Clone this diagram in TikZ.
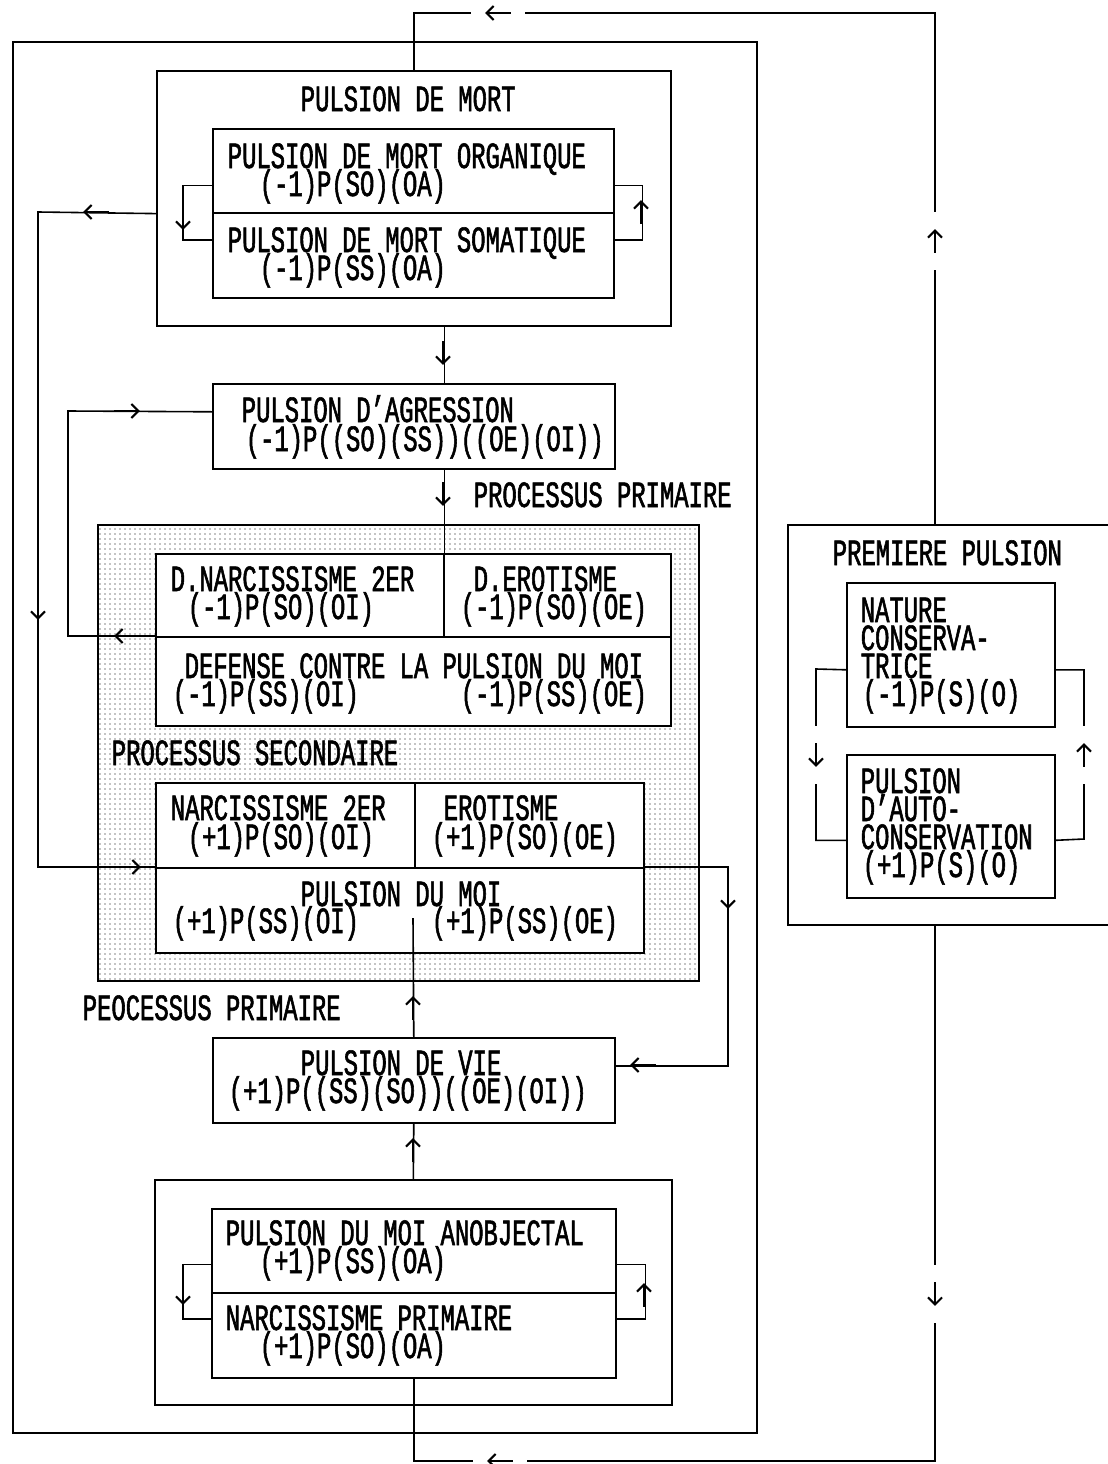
\documentclass[tikz,border=0pt]{standalone}
\usepackage{fontspec}
\setmainfont{Liberation Mono}[FakeStretch=0.645,FakeBold=1.5]
\usetikzlibrary{patterns.meta,arrows.meta}

\begin{document}
\begin{tikzpicture}[x=1pt,y=-1pt,line width=1.6pt,
  cell/.style={draw,rectangle,anchor=north west,inner sep=0pt},
  wcell/.style={cell,fill=white},
  wh/.style 2 args={minimum width=#1pt,minimum height=#2pt},
  lbl/.style={anchor=base west,inner sep=0pt,font=\fontsize{37}{28}\selectfont},
  ha/.style={inner sep=0pt,minimum width=24pt,minimum height=1pt},
  va/.style={inner sep=0pt,minimum width=1pt,minimum height=22pt},
  hg/.style={ha,fill=white,minimum width=54pt,minimum height=6pt},
  vg/.style={va,fill=white,minimum width=6pt,minimum height=58pt},
  tip/.style={-{Straight Barb[length=7pt,width=14pt,line width=2pt]}}]
\useasboundingbox (0,0) rectangle (1108,1464);
% boxes
\node[wcell,wh={744}{1391}] (outer) at (12,41) {};
\node[wcell,wh={514}{255}] (pdm) at (156,70) {};
\node[wcell,wh={401}{84}] (orga) at (212,128) {};
\node[wcell,wh={401}{85}] (soma) at (212,212) {};
\node[wcell,wh={402}{85}] (agr) at (212,383) {};
\node[cell,wh={601}{456},pattern={Dots[radius=0.65pt,distance=5pt]}] (shade) at (97,524) {};
\node[wcell,wh={288}{83}] (dnarc) at (155,553) {};
\node[wcell,wh={227}{83}] (derot) at (443,553) {};
\node[wcell,wh={515}{89}] (defen) at (155,636) {};
\node[wcell,wh={259}{85}] (narc) at (155,782) {};
\node[wcell,wh={229}{85}] (erot) at (414,782) {};
\node[wcell,wh={488}{85}] (moi) at (155,867) {};
\node[wcell,wh={402}{85}] (pdv) at (212,1037) {};
\node[wcell,wh={517}{225}] (grp) at (154,1179) {};
\node[wcell,wh={404}{84}] (anobj) at (211,1208) {};
\node[wcell,wh={404}{85}] (narcp) at (211,1292) {};
\node[wcell,wh={340}{400}] (pp) at (787,524) {};
\node[wcell,wh={208}{144}] (nature) at (846,582) {};
\node[wcell,wh={208}{143}] (autoc) at (846,754) {};
\coordinate (rv) at (935,0);
\coordinate (stub) at (413,918);

% connectors
\draw (pp.north west -| rv) -- (935,13) -| (pdm.north);
\draw (pp.south west -| rv) -- (935,1461) -| (narcp.south);
\draw ([yshift=28pt]orga.south west) -- ++(-29,0) |- ([yshift=-28pt]soma.north west);
\draw ([yshift=-28pt]soma.north east) -- ++(28,0) |- ([yshift=28pt]orga.south east);
\draw (pdm.west |- orga.south) -- (38,212) -- (38,867) -- (moi.north west);
\draw (dnarc.north east |- pdm.south) -- (dnarc.north east |- agr.north);
\draw (dnarc.north east |- agr.south) -- (dnarc.north east);
\draw (defen.north west) -- (68,636) -- (68,411) -- ([yshift=14.5pt]agr.west);
\draw (moi.north east) -- (728,867) |- ([yshift=14.5pt]pdv.east);
\draw (pdv.north) -- (stub);
\draw (grp.north) -- (pdv.south);
\draw ([yshift=29pt]anobj.south west) -- ++(-28,0) |- ([yshift=-27pt]narcp.north west);
\draw ([yshift=-27pt]narcp.north east) -- ++(29,0) |- ([yshift=29pt]anobj.south east);
\draw ([yshift=-15pt]nature.west) -- (816,669) |- ([yshift=-14pt]autoc.west);
\draw ([yshift=-14pt]autoc.east) -- (1084,839) |- ([yshift=-15pt]nature.east);

% texts
\node[lbl] (tpdm) at (300,111) {PULSION DE MORT};
\node[lbl] (torga) at (227,168) {PULSION DE MORT ORGANIQUE};
\node[lbl] (torgaf) at (259,196) {(-1)P(SO)(OA)};
\node[lbl] (tsoma) at (227,252) {PULSION DE MORT SOMATIQUE};
\node[lbl] (tsomaf) at (259,280) {(-1)P(SS)(OA)};
\node[lbl] (tagr) at (241,422) {PULSION D'AGRESSION};
\node[lbl] (tagrf) at (245,451) {(-1)P((SO)(SS))((OE)(OI))};
\node[lbl] (tprim) at (473,507) {PROCESSUS PRIMAIRE};
\node[lbl] (tdnarc) at (170,591) {D.NARCISSISME 2ER};
\node[lbl] (tdnarcf) at (187,619) {(-1)P(SO)(OI)};
\node[lbl] (tderot) at (473,591) {D.EROTISME};
\node[lbl] (tderotf) at (460,619) {(-1)P(SO)(OE)};
\node[lbl] (tdefen) at (184,678) {DEFENSE CONTRE LA PULSION DU MOI};
\node[lbl] (tdefenf) at (172,706) {(-1)P(SS)(OI)};
\node[lbl] (tdefeng) at (460,706) {(-1)P(SS)(OE)};
\node[lbl] (tsec) at (111,765) {PROCESSUS SECONDAIRE};
\node[lbl] (tnarc) at (170,820) {NARCISSISME 2ER};
\node[lbl] (tnarcf) at (187,849) {(+1)P(SO)(OI)};
\node[lbl] (terot) at (443,820) {EROTISME};
\node[lbl] (terotf) at (431,849) {(+1)P(SO)(OE)};
\node[lbl] (tmoi) at (300,906) {PULSION DU MOI};
\node[lbl] (tmoif) at (172,933) {(+1)P(SS)(OI)};
\node[lbl] (tmoig) at (431,933) {(+1)P(SS)(OE)};
\node[lbl] (tprim2) at (82,1020) {PEOCESSUS PRIMAIRE};
\node[lbl] (tpdv) at (300,1075) {PULSION DE VIE};
\node[lbl] (tpdvf) at (228,1103) {(+1)P((SS)(SO))((OE)(OI))};
\node[lbl] (tanobj) at (225,1245) {PULSION DU MOI ANOBJECTAL};
\node[lbl] (tanobjf) at (259,1273) {(+1)P(SS)(OA)};
\node[lbl] (tnarcp) at (225,1330) {NARCISSISME PRIMAIRE};
\node[lbl] (tnarcpf) at (259,1358) {(+1)P(SO)(OA)};
\node[lbl] (tpp) at (832,565) {PREMIERE PULSION};
\node[lbl] (tnat1) at (860,622) {NATURE};
\node[lbl] (tnat2) at (860,650) {CONSERVA-};
\node[lbl] (tnat3) at (860,678) {TRICE};
\node[lbl] (tnat4) at (862,706) {(-1)P(S)(O)};
\node[lbl] (tauto1) at (860,793) {PULSION};
\node[lbl] (tauto2) at (860,821) {D'AUTO-};
\node[lbl] (tauto3) at (860,849) {CONSERVATION};
\node[lbl] (tauto4) at (862,877) {(+1)P(S)(O)};

% arrow heads
\node[hg] (a1) at (498,13) {};
\node[vg] (a2) at (935,241) {};
\node[vg] (a3) at (935,1294) {};
\node[hg] (a4) at (500,1461) {};
\node[va] (a5) at (183,218) {};
\node[va] (a6) at (641,212) {};
\node[ha] (a7) at (96,212) {};
\node[va] (a8) at (38,608) {};
\node[ha] (a9) at (128,867) {};
\node[va] (a10) at (443,353) {};
\node[va] (a11) at (443,494) {};
\node[ha] (a12) at (127,636) {};
\node[ha] (a13) at (127,411) {};
\node[va] (a14) at (728,897) {};
\node[ha] (a15) at (643,1065) {};
\node[va] (a16) at (413,1008) {};
\node[va] (a17) at (413,1150) {};
\node[va] (a18) at (183,1293) {};
\node[va] (a19) at (644,1295) {};
\node[vg] (a20) at (816,755) {};
\node[vg] (a21) at (1084,755) {};
\foreach \n/\f/\t/\s in {a1/east/west/15, a2/south/north/18, a3/north/south/18,
    a4/east/west/15, a5/north/south/0, a6/south/north/0, a7/east/west/0,
    a8/north/south/0, a9/west/east/0, a10/north/south/0, a11/north/south/0,
    a12/east/west/0, a13/west/east/0, a14/north/south/0, a15/east/west/0,
    a16/south/north/0, a17/south/north/0, a18/north/south/0, a19/south/north/0,
    a20/north/south/18, a21/south/north/18}
  \draw[tip,shorten <=\s pt,shorten >=\s pt] (\n.\f) -- (\n.\t);
\end{tikzpicture}
\end{document}
